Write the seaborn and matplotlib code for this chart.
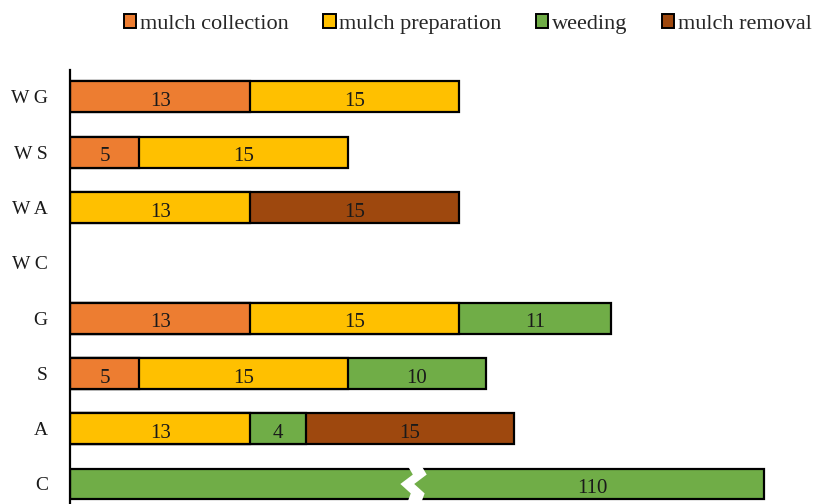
import numpy as np
import pandas as pd
import matplotlib
matplotlib.use("Agg")
import matplotlib.pyplot as plt
from matplotlib.patches import Patch, Polygon
import seaborn as sns

# Labour time per mulching treatment, split by task
treatments = ["W G", "W S", "W A", "W C", "G", "S", "A", "C"]
tasks = ["mulch collection", "mulch preparation", "weeding", "mulch removal"]
mulch_collection = [13, 5, 0, 0, 13, 5, 0, 0]
mulch_preparation = [15, 15, 13, 0, 15, 15, 13, 0]
weeding = [0, 0, 0, 0, 11, 10, 4, 110]
mulch_removal = [0, 0, 15, 0, 0, 0, 15, 0]
colors = ["#ED7D31", "#FFC000", "#70AD47", "#9E480E"]

segments = np.array([mulch_collection, mulch_preparation, weeding, mulch_removal], dtype=float)
cumulative = segments.cumsum(axis=0)
starts = cumulative - segments

# Broken value axis: linear up to KNEE, compressed beyond it
KNEE = 40.0
SQUEEZE = 7.0


def fwd(x):
    x = np.asarray(x, dtype=float)
    return np.where(x <= KNEE, x, KNEE + (x - KNEE) / SQUEEZE)


def inv(y):
    y = np.asarray(y, dtype=float)
    return np.where(y <= KNEE, y, KNEE + (y - KNEE) * SQUEEZE)


BREAK_X = 24.8    # where the long bar is visually cut
BREAK_HALF = 0.5

sns.set_theme(style="white")
plt.rcParams["font.family"] = ["Liberation Serif", "DejaVu Serif"]

W, H = 817, 504
fig = plt.figure(figsize=(W / 100, H / 100), dpi=100)
ax = fig.add_axes([70 / W, 0, 740 / W, 434 / H])

bar_h = 0.56
# Draw the stacked bars as overlapping cumulative bars, longest layer first
for k in range(len(tasks) - 1, -1, -1):
    mask = segments[k] > 0
    df = pd.DataFrame({
        "treatment": [t for t, m in zip(treatments, mask) if m],
        "total": cumulative[k][mask],
    })
    sns.barplot(data=df, x="total", y="treatment", order=treatments, orient="h",
                color=colors[k], saturation=1, edgecolor="black", linewidth=1.6,
                width=bar_h, errorbar=None, ax=ax)

ax.set_xscale("function", functions=(fwd, inv))
px_per_unit = 13.88
ax.set_xlim(0, float(inv(740 / px_per_unit)))
ax.set_ylim(7.362, -0.488)

# Segment value labels
for k in range(len(tasks)):
    for i in range(len(treatments)):
        v = segments[k][i]
        if v <= 0:
            continue
        a, b = starts[k][i], cumulative[k][i]
        if fwd(b) > KNEE:
            left = BREAK_X + BREAK_HALF
            xc = float(inv((left + fwd(b)) / 2))
        else:
            xc = (a + b) / 2
        ax.text(xc, i + 0.165, f"{int(v)}", ha="center", va="baseline",
                fontsize=15, color="#1a1a1a")

# Zigzag break across the long bar
ci = treatments.index("C")
half = bar_h / 2 + 0.06
ys = np.linspace(ci - half, ci + half, 5)
zig = np.array([0.0, 0.4, -0.5, 0.25, 0.0])
left_edge = [(BREAK_X - BREAK_HALF + z, y) for z, y in zip(zig, ys)]
right_edge = [(BREAK_X + BREAK_HALF + z, y) for z, y in zip(zig[::-1], ys[::-1])]
ax.add_patch(Polygon(left_edge + right_edge, closed=True, facecolor="white",
                     edgecolor="none", zorder=5))

ax.set_xlabel("")
ax.set_ylabel("")
ax.set_xticks([])
ax.tick_params(axis="y", length=0, pad=16, labelsize=14, labelcolor="#1a1a1a")
for s in ["top", "right", "bottom"]:
    ax.spines[s].set_visible(False)
ax.spines["left"].set_color("black")
ax.spines["left"].set_linewidth(1.6)

handles = [Patch(facecolor=c, edgecolor="black", linewidth=1.4, label=t)
           for c, t in zip(colors, tasks)]
fig.legend(handles=handles, loc="center", bbox_to_anchor=(468 / W, 1 - 24 / H),
           ncol=4, frameon=False, fontsize=16, handlelength=0.55, handleheight=0.55,
           handletextpad=0.17, columnspacing=1.55)

fig.savefig("out.png", dpi=100)
